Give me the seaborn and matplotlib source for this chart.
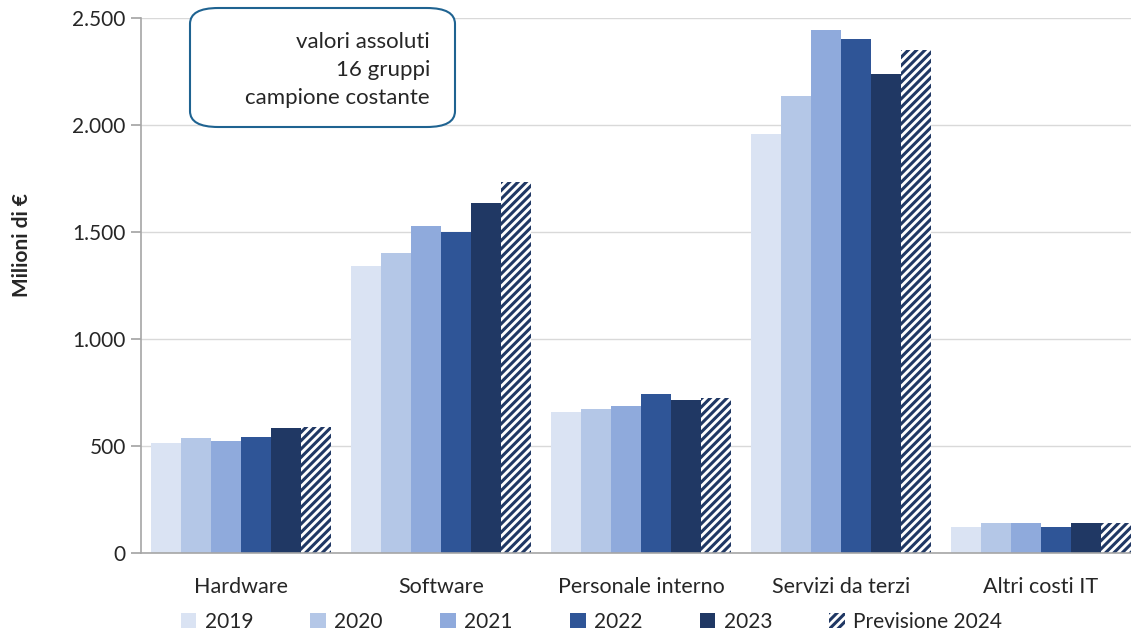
"""Costi IT per voce di spesa, 2019-2024."""

import matplotlib.pyplot as plt
import matplotlib.ticker as mticker
import pandas as pd
import seaborn as sns
from matplotlib.patches import FancyBboxPatch

categories = ["Hardware", "Software", "Personale interno", "Servizi da terzi", "Altri costi IT"]
years = ["2019", "2020", "2021", "2022", "2023", "Previsione 2024"]
colors = ["#DAE3F3", "#B4C7E7", "#8FAADC", "#2F5597", "#203864", "#FFFFFF"]

v2019 = [514, 1341, 659, 1958, 121]
v2020 = [537, 1402, 673, 2136, 140]
v2021 = [523, 1528, 687, 2444, 138]
v2022 = [542, 1500, 743, 2402, 121]
v2023 = [584, 1636, 715, 2238, 138]
v2024 = [589, 1734, 724, 2350, 140]

box_lines = ["valori assoluti", "16 gruppi", "campione costante"]

rows = []
for year, vals in zip(years, [v2019, v2020, v2021, v2022, v2023, v2024]):
    for cat, v in zip(categories, vals):
        rows.append({"categoria": cat, "anno": year, "valore": v})
df = pd.DataFrame(rows)

sns.set_theme(style="white")
plt.rcParams["font.family"] = ["Lato", "DejaVu Sans"]
plt.rcParams["hatch.linewidth"] = 2.2
plt.rcParams["hatch.color"] = "#203864"

fig = plt.figure(figsize=(11.31, 6.33), dpi=100)
ax = fig.add_axes([0.1247, 0.1264, 0.8753, 0.8452])

sns.barplot(
    data=df, x="categoria", y="valore", hue="anno",
    hue_order=years, order=categories, palette=colors,
    width=0.9, saturation=1, ax=ax, legend=False, linewidth=0,
)

# ultimo anno (previsione) tratteggiato
n = len(categories)
for p in ax.patches[-n:]:
    p.set_facecolor("white")
    p.set_edgecolor("#203864")
    p.set_hatch("////")
    p.set_linewidth(0)

ax.set_ylim(0, 2500)
ax.set_xlim(-0.5, 4.45)
ax.yaxis.set_major_locator(mticker.MultipleLocator(500))
ax.yaxis.set_major_formatter(
    mticker.FuncFormatter(lambda v, _: f"{int(v):,}".replace(",", "."))
)
ax.grid(axis="y", color="#D9D9D9", linewidth=1)
ax.set_axisbelow(True)

ax.set_xticks(range(n))
ax.set_xticklabels(categories, fontsize=15.5)
ax.tick_params(axis="x", length=0, pad=17)
ax.set_xticks([i - 0.5 for i in range(n)], minor=True)
ax.tick_params(axis="x", which="minor", length=7, color="#A6A6A6", width=1.2)
ax.tick_params(axis="y", labelsize=15, length=7, color="#A6A6A6", left=True, pad=4)

for side in ["top", "right"]:
    ax.spines[side].set_visible(False)
for side in ["left", "bottom"]:
    ax.spines[side].set_color("#A6A6A6")
    ax.spines[side].set_linewidth(1.2)

ax.set_xlabel("")
ax.set_ylabel("")
fig.text(22 / 1131, 1 - 245 / 633, "Milioni di €", rotation=90, ha="center",
         va="center", fontsize=15, fontweight="bold")

# legenda
handles = []
for year, c in zip(years, colors):
    if year == years[-1]:
        h = plt.Rectangle((0, 0), 1, 1, facecolor="white", edgecolor="#203864",
                          hatch="////", linewidth=0)
    else:
        h = plt.Rectangle((0, 0), 1, 1, facecolor=c, linewidth=0)
    handles.append(h)
fig.legend(
    handles, years, loc="center", bbox_to_anchor=(0.523, 0.018), ncol=6,
    frameon=False, fontsize=15, handlelength=0.75, handleheight=0.75,
    handletextpad=0.4, columnspacing=2.75,
)

# riquadro note
box = FancyBboxPatch(
    (190 / 1131, 1 - 127 / 633), (455 - 190) / 1131, (127 - 8) / 633,
    boxstyle="round,pad=0,rounding_size=0.025", transform=fig.transFigure,
    facecolor="white", edgecolor="#1F6391", linewidth=1.5, zorder=5,
)
fig.patches.append(box)
fig.text(430 / 1131, 1 - 70 / 633, "\n".join(box_lines), ha="right", va="center",
         fontsize=16, linespacing=1.5, zorder=6)

fig.savefig("out.png", dpi=100)
